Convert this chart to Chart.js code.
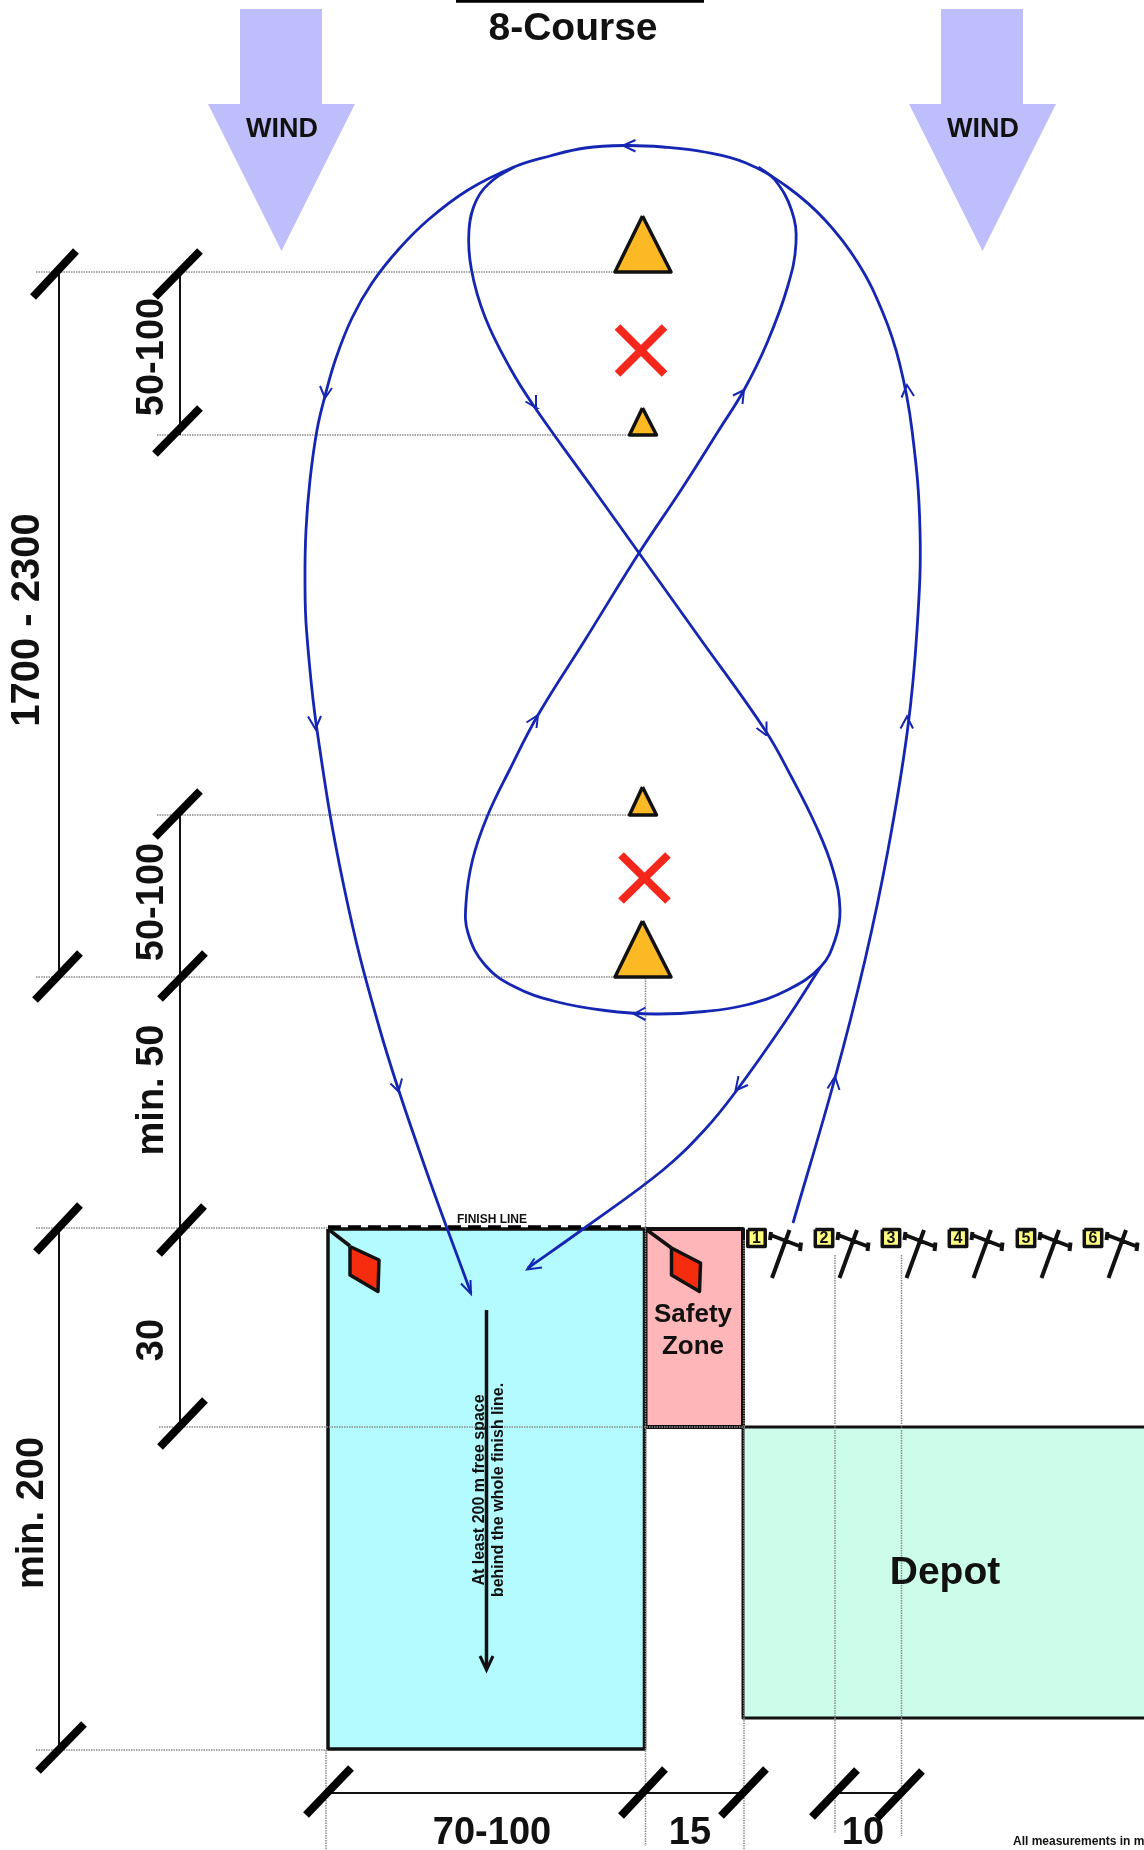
<!DOCTYPE html>
<html>
<head>
<meta charset="utf-8">
<title>8-Course</title>
<script src="https://cdn.jsdelivr.net/npm/chart.js@4/dist/chart.umd.min.js"></script>
<style>
  html, body { margin: 0; padding: 0; background: #fff; }
  canvas { display: block; }
</style>
</head>
<body>
<canvas id="course" width="1144" height="1850"></canvas>
<script>
// course plan, all values in its own units
const windLeft = [[240, 9], [322, 9], [322, 104], [355, 104], [281.5, 251], [208, 104], [240, 104]];
const windRight = [[941, 9], [1023, 9], [1023, 104], [1056, 104], [982.5, 251], [909, 104], [941, 104]];

const landingZone = [[328, 1229], [644.5, 1229], [644.5, 1749], [328, 1749]];
const safetyZone = [[645.5, 1229], [743, 1229], [743, 1427], [645.5, 1427]];
const depot = [[743, 1427], [1150, 1427], [1150, 1718], [743, 1718]];

const pylons = [
  [[642.5, 216], [671, 272], [615, 272]],
  [[642.5, 408], [656.5, 435], [629.5, 435]],
  [[642.5, 787], [656.5, 815], [629.5, 815]],
  [[642.5, 921], [671, 977], [615, 977]]
];
const crossTop = [[617.5, 327], [664.5, 374], null, [664.5, 327], [617.5, 374]];
const crossBottom = [[621, 855], [668, 901], null, [668, 855], [621, 901]];

const flagFinish = [[350, 1246.5], [379, 1260], [378, 1291.5], [350, 1275]];
const flagSafety = [[671.5, 1248], [700.5, 1263], [699.5, 1291.5], [671.5, 1275]];
const flagPoles = [[328, 1229], [350, 1246], null, [647, 1230], [671.5, 1248]];

const dottedLines = [
  [36, 272], [615, 272], null, [157, 435], [630, 435], null,
  [157, 815], [630, 815], null, [36, 977], [615, 977], null,
  [36, 1228], [328, 1228], null, [159, 1427], [745, 1427], null,
  [36, 1750], [328, 1750], null,
  [645.5, 978], [645.5, 1846], null, [326, 1750], [326, 1850], null,
  [744, 1240], [744, 1850], null, [835, 1255], [835, 1833], null, [901.5, 1255], [901.5, 1836]
];
const dimensionLines = [
  [59, 272], [59, 977], null, [59, 1228], [59, 1750], null,
  [180, 272], [180, 435], null, [180, 815], [180, 1427], null,
  [328, 1793], [742, 1793], null, [840, 1793], [897, 1793]
];
const dimensionTicks = [
  [76, 251], [33, 297], null, [200, 251], [155, 297], null,
  [200, 408], [155, 454], null, [200, 791], [155, 837], null,
  [80, 953], [35, 1000], null, [205, 953], [160, 999], null,
  [80, 1205], [36, 1252], null, [204, 1206], [159, 1254], null,
  [205, 1400], [160, 1447], null, [84, 1724], [38, 1771], null,
  [351, 1768], [306, 1815], null, [665, 1769], [621, 1816], null,
  [766, 1769], [721, 1816], null, [857, 1770], [812, 1817], null,
  [922, 1771], [877, 1818]
];

const outerLoop = [
  [793, 1223], [835, 1078], [865, 960], [888, 850], [907.5, 730], [917, 630], [920, 530], [912, 430],
  [899.5, 363], [883, 313], [858, 263], [825, 220], [787.5, 187], [746, 163], [704.5, 152], [663, 147],
  [625, 145.5], [585, 148], [550, 156], [514, 167], [468, 190], [428, 220], [398, 250], [372, 283],
  [352, 318], [336, 358], [325, 396], [317, 430], [310, 480], [306, 530], [305, 580], [306.5, 630], [317, 730],
  [344, 887], [380, 1030], [422.5, 1160], [471, 1293]
];
const innerLoop = [
  [514, 167], [493, 180], [476.5, 200], [469, 230], [471.5, 270], [485, 317], [509.5, 367], [534.5, 407],
  [594, 490], [639, 553], [699, 637], [765, 730], [791.5, 777], [816.5, 827], [833, 870],
  [840, 910], [835, 940], [820.5, 967], [787.5, 990], [746, 1005], [704.5, 1011.5], [655, 1014], [605, 1010.5],
  [555.5, 1001.5], [514, 986.5], [485, 965], [468, 933], [466, 903], [472.5, 860], [487, 817], [509.5, 770],
  [538, 715], [585, 640], [639, 553], [681, 490], [719, 430], [744, 390], [767, 343], [787.5, 287],
  [796, 243], [791.5, 210], [775, 180], [758.5, 167]
];
const finishBranch = [
  [820.5, 967], [785, 1022], [735.5, 1092], [704.5, 1130], [663, 1170], [584.5, 1228], [528, 1268]
];
const courseArrows = [
  [635.5, 140], [623, 145.5], [635.5, 151.5], null,
  [320, 386], [325, 398], [332, 388], null,
  [525.5, 401.5], [536.5, 408], [536, 395], null,
  [733, 395.5], [744, 390], [742.5, 404], null,
  [901.5, 397.5], [907, 385], [914, 396], null,
  [308, 716.5], [315.5, 729], [321, 716], null,
  [526.5, 722.5], [538, 715], [536.5, 728], null,
  [756.5, 728], [766, 735], [766.5, 721.5], null,
  [900.5, 728.5], [907, 716.5], [913, 728.5], null,
  [645.5, 1007.5], [634, 1014], [645.5, 1020], null,
  [390.5, 1083.5], [398.5, 1091.5], [402, 1078.5], null,
  [738.5, 1076], [735.5, 1090.5], [748, 1085], null,
  [827.5, 1088.5], [835, 1076.5], [839.5, 1090], null,
  [461, 1283.5], [471, 1294], [470.5, 1280], null,
  [542, 1267.5], [527, 1269.5], [534.5, 1258.5]
];

const freeSpaceArrow = [[486.5, 1310], [486.5, 1668]];
const freeSpaceHead = [[480, 1656], [486.5, 1670], [493, 1656]];
const finishDashes = [[328, 1227], [645, 1227]];
const titleRule = [[456, 1], [704, 1]];

const startBoxX = [756.5, 824, 891, 958, 1026, 1093];
const startNumbers = ['1', '2', '3', '4', '5', '6'];

const labelTexts = ['8-Course', 'WIND', 'WIND', 'FINISH LINE', 'Safety', 'Zone', 'Depot',
  '70-100', '15', '10', '1700 - 2300', '50-100', '50-100', 'min. 50', '30', 'min. 200',
  'At least 200 m free space', 'behind the whole finish line.', 'All measurements in meters'];
const labelX = [573, 282, 983, 492, 693, 693, 945, 492, 690, 863, 28, 153, 153, 153, 153, 33, 479.5, 499, 1013];
const labelY = [29, 130, 130, 1220, 1315, 1347, 1573, 1834, 1834, 1834, 620, 357, 902, 1090, 1340, 1513, 1490, 1490, 1842];
const labelSize = [39, 27, 27, 12, 26, 26, 39, 38, 38, 38, 40, 38, 38, 38, 38, 38, 16, 16, 12];
const labelRotated = [0, 0, 0, 0, 0, 0, 0, 0, 0, 0, 1, 1, 1, 1, 1, 1, 1, 1, 0];
const labelLeft = [0, 0, 0, 0, 0, 0, 0, 0, 0, 0, 0, 0, 0, 0, 0, 0, 0, 0, 1];

function toPoints(list) {
  return list.map(p => (p ? { x: p[0], y: p[1] } : { x: null, y: null }));
}

function shape(list, fillColor, borderColor, borderWidth) {
  return {
    data: toPoints(list.concat([list[0]])),
    fill: 'shape',
    backgroundColor: fillColor,
    borderColor: borderColor,
    borderWidth: borderWidth,
    borderJoinStyle: 'round'
  };
}

function lines(list, color, width, extra) {
  return Object.assign({
    data: toPoints(list),
    fill: false,
    borderColor: color,
    borderWidth: width,
    spanGaps: false
  }, extra);
}

function startGateLines() {
  const out = [];
  startBoxX.forEach((x, i) => {
    if (i > 0) out.push(null);
    out.push([x + 33, 1230], [x + 15.5, 1278], null,
      [x + 14, 1235], [x + 44, 1246.5], null,
      [x + 14.5, 1232], [x + 13.5, 1240], null,
      [x + 44.5, 1242.5], [x + 43.5, 1251]);
  });
  return out;
}

function startBoxes() {
  return startBoxX.map(x => shape([[x - 8.7, 1229.5], [x + 8.7, 1229.5], [x + 8.7, 1246.5], [x - 8.7, 1246.5]], '#ffff80', '#111', 3.5));
}

const BLUE = '#1526b2';

// listed in paint order, reversed below because Chart.js paints the first dataset last
const layers = [
  shape(windLeft, '#bebefc', '#bebefc', 0),
  shape(windRight, '#bebefc', '#bebefc', 0),
  shape(landingZone, '#b3fbff', '#111', 3.5),
  shape(safetyZone, '#ffb6b9', '#111', 4),
  shape(depot, '#ccfdeb', '#111', 3),
  lines(dottedLines, '#8a8a8a', 1.5, { borderDash: [1.5, 1] }),
  lines(dimensionLines, '#111', 2),
  lines(dimensionTicks, '#000', 8),
  lines(titleRule, '#000', 3.5),
  lines(finishDashes, '#000', 3.5, { borderDash: [13, 7] }),
  lines(flagPoles, '#111', 3.5),
  shape(flagFinish, '#f52d0e', '#111', 3.5),
  shape(flagSafety, '#f52d0e', '#111', 3.5),
  ...pylons.map(p => shape(p, '#fdb924', '#111', 3.5)),
  lines(crossTop, '#f5261c', 8),
  lines(crossBottom, '#f5261c', 8),
  lines(outerLoop, BLUE, 2.8, { tension: 0.4 }),
  lines(innerLoop, BLUE, 2.8, { tension: 0.4 }),
  lines(finishBranch, BLUE, 2.8, { tension: 0.4 }),
  lines(courseArrows, BLUE, 2),
  lines(freeSpaceArrow, '#111', 3.5),
  lines(freeSpaceHead, '#111', 3),
  ...startBoxes(),
  lines(startGateLines(), '#111', 4)
];

const textPlugin = {
  id: 'courseText',
  afterDatasetsDraw(chart) {
    const { ctx, scales } = chart;
    ctx.save();
    ctx.fillStyle = '#111';
    ctx.textBaseline = 'middle';
    labelTexts.forEach((text, i) => {
      ctx.save();
      ctx.translate(scales.x.getPixelForValue(labelX[i]), scales.y.getPixelForValue(labelY[i]));
      if (labelRotated[i]) ctx.rotate(-Math.PI / 2);
      ctx.font = 'bold ' + labelSize[i] + 'px "Liberation Sans"';
      ctx.textAlign = labelLeft[i] ? 'left' : 'center';
      ctx.fillText(text, 0, 0);
      ctx.restore();
    });
    ctx.font = 'bold 16px "Liberation Sans"';
    ctx.textAlign = 'center';
    startNumbers.forEach((n, i) => {
      ctx.fillText(n, scales.x.getPixelForValue(startBoxX[i]), scales.y.getPixelForValue(1238.5));
    });
    ctx.restore();
  }
};

new Chart(document.getElementById('course'), {
  type: 'scatter',
  data: { datasets: layers.reverse() },
  plugins: [textPlugin],
  options: {
    responsive: false,
    animation: false,
    showLine: true,
    layout: { padding: 0 },
    elements: { point: { radius: 0, hoverRadius: 0 } },
    plugins: { legend: { display: false }, tooltip: { enabled: false }, title: { display: false } },
    scales: {
      x: { type: 'linear', min: 0, max: 1144, display: false },
      y: { type: 'linear', min: 0, max: 1850, reverse: true, display: false }
    }
  }
});
</script>
</body>
</html>
